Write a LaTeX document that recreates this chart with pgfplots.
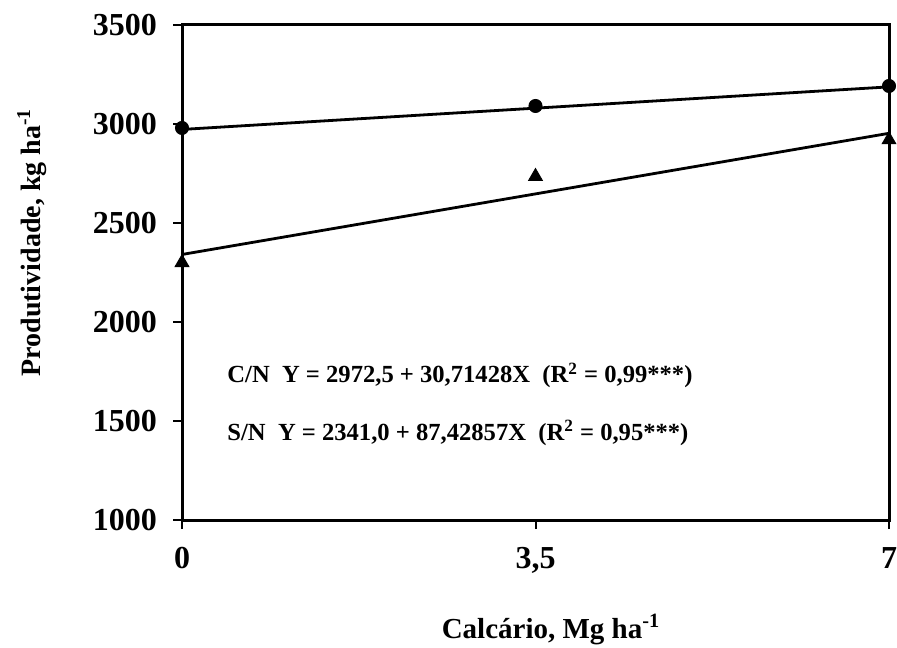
\documentclass[border=0pt]{standalone}
\usepackage{fontspec}
\setmainfont{Liberation Serif}
\usepackage{pgfplots}
\pgfplotsset{compat=1.18}
\begin{document}
\begin{tikzpicture}
\begin{axis}[
 scale only axis, width=353.5pt, height=247.5pt,
 xmin=0, xmax=7, ymin=1000, ymax=3500,
 xtick={0,3.5,7}, xticklabels={0,{3,5},7},
 ytick={1000,1500,2000,2500,3000,3500},
 yticklabels={1000,1500,2000,2500,3000,3500},
 xtick pos=bottom, ytick pos=left,
 /pgf/number format/assume math mode=true,
 ticklabel style={font=\bfseries\fontsize{16}{17}\selectfont},
 xticklabel style={yshift=-5.5pt},
 yticklabel style={xshift=-4.5pt},
 tick align=outside, major tick length=4.5pt,
 tick style={line width=1pt, black},
 axis line style={line width=1.5pt},
 clip=false,
]
\addplot[line width=1.4pt, black] coordinates {(0,2972.5) (7,3187.5)};
\addplot[line width=1.4pt, black] coordinates {(0,2341.0) (7,2953.0)};
\addplot[only marks, mark=*, mark size=3.3pt, black] coordinates {(0,2980) (3.5,3091) (7,3192)};
\addplot[only marks, mark=triangle*, mark size=4pt, black] coordinates {(0,2300) (3.5,2735) (7,2920)};
\node[anchor=base west, inner sep=0pt, font=\bfseries\fontsize{12.3}{13}\selectfont] at (axis cs:0.446,1692) {C/N~~Y = 2972,5 + 30,71428X~~(R\textsuperscript{2} = 0,99***)};
\node[anchor=base west, inner sep=0pt, font=\bfseries\fontsize{12.3}{13}\selectfont] at (axis cs:0.446,1404) {S/N~~Y = 2341,0 + 87,42857X~~(R\textsuperscript{2} = 0,95***)};
\coordinate (sw) at (rel axis cs:0,0);
\coordinate (ne) at (rel axis cs:1,1);
\end{axis}
\node[rotate=90, anchor=west, inner sep=0pt, font=\bfseries\fontsize{14}{15}\selectfont] at ([shift={(-75pt,71.5pt)}]sw) {Produtividade, kg ha\textsuperscript{-1}};
\node[anchor=base, inner sep=0pt, font=\bfseries\fontsize{14.5}{15}\selectfont] at ([shift={(184.5pt,-59pt)}]sw) {Calcário, Mg ha\textsuperscript{-1}};
\pgfresetboundingbox
\path ([shift={(-91pt,-63.5pt)}]sw) rectangle ([shift={(4pt,12.5pt)}]ne);
\end{tikzpicture}
\end{document}
